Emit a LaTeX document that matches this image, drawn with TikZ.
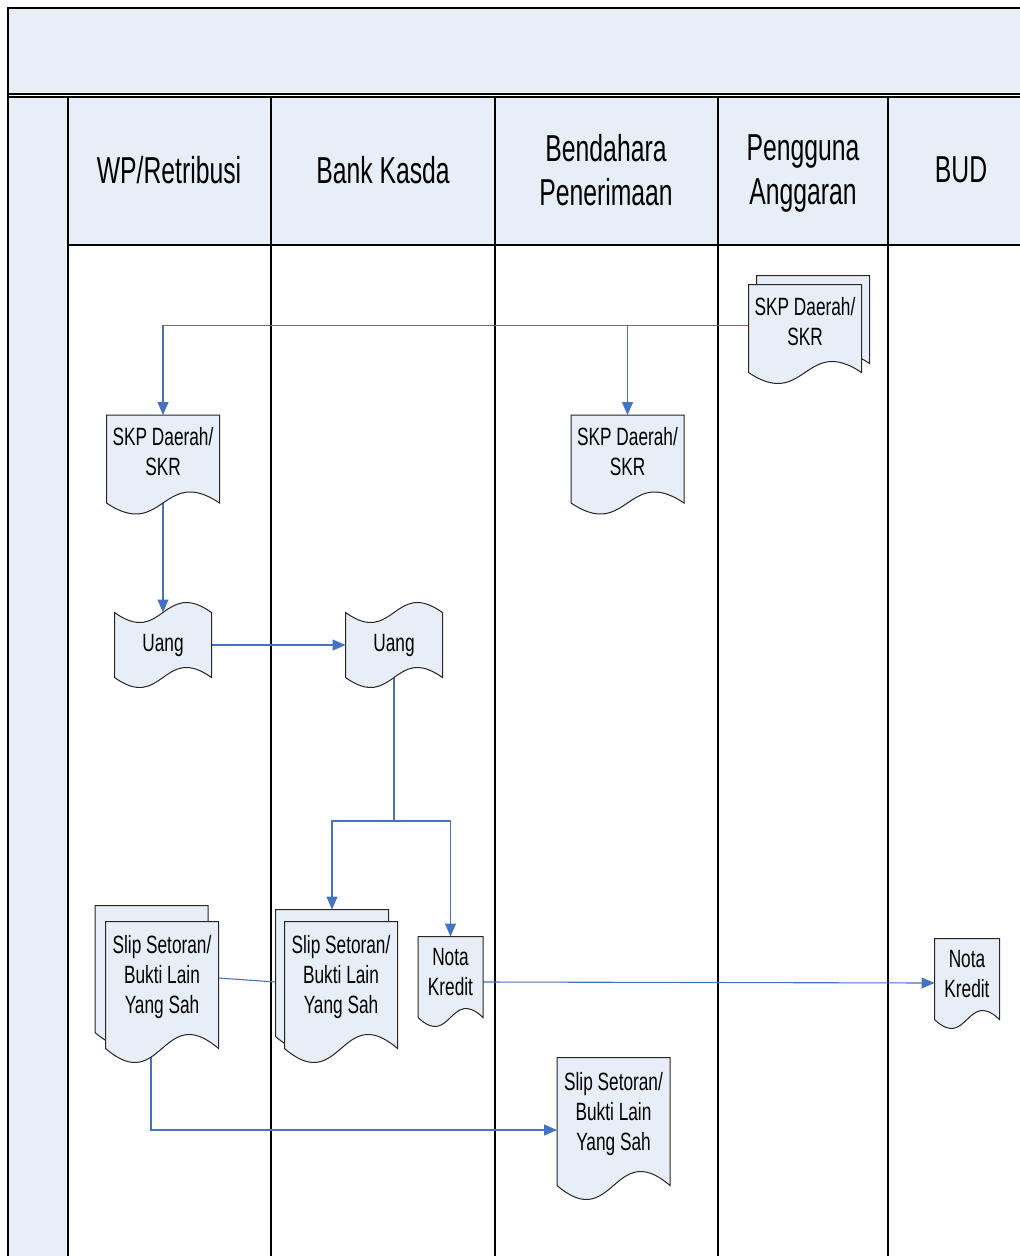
\documentclass[tikz,border=0pt]{standalone}
\usepackage{fontspec}
\usetikzlibrary{arrows.meta,calc}
\newfontfamily\hdfont{Liberation Sans}[FakeStretch=0.66]
\newfontfamily\dcfont{Liberation Sans}[FakeStretch=0.69]

\definecolor{paleblue}{RGB}{232,238,248}
\definecolor{linkblue}{RGB}{68,114,196}

% scratch registers for the custom shapes
\newdimen\shXa \newdimen\shYa \newdimen\shXb \newdimen\shYb
\newdimen\shXm \newdimen\shC \newdimen\shD
\def\shWaveAmp{10pt}
\def\shWaveDrop{14pt}

\makeatletter
% document symbol: straight top and sides, wavy bottom hanging below the text box
\pgfdeclareshape{wavydoc}{
  \inheritsavedanchors[from=rectangle]
  \inheritanchorborder[from=rectangle]
  \inheritanchor[from=rectangle]{center}
  \inheritanchor[from=rectangle]{north}
  \inheritanchor[from=rectangle]{south}
  \inheritanchor[from=rectangle]{east}
  \inheritanchor[from=rectangle]{west}
  \inheritanchor[from=rectangle]{north east}
  \inheritanchor[from=rectangle]{north west}
  \inheritanchor[from=rectangle]{south east}
  \inheritanchor[from=rectangle]{south west}
  \inheritanchor[from=rectangle]{mid}
  \inheritanchor[from=rectangle]{base}
  \backgroundpath{%
    \southwest \shXa=\pgf@x \shYa=\pgf@y
    \northeast \shXb=\pgf@x \shYb=\pgf@y
    \pgfmathsetlength\shD{\shWaveDrop}%
    \pgfmathsetlength\shC{\shWaveAmp/0.2887}%
    \advance\shYa by -\shD
    \shXm=\shXa \advance\shXm by \shXb \divide\shXm by 2
    \pgfpathmoveto{\pgfqpoint{\shXa}{\shYb}}%
    \pgfpathlineto{\pgfqpoint{\shXb}{\shYb}}%
    \pgfpathlineto{\pgfqpoint{\shXb}{\shYa}}%
    \pgfpathcurveto{\pgfpoint{\shXm}{\shYa+\shC}}{\pgfpoint{\shXm}{\shYa-\shC}}{\pgfqpoint{\shXa}{\shYa}}%
    \pgfpathclose
  }
}
% punched tape symbol: wavy top and bottom
\pgfdeclareshape{punchtape}{
  \inheritsavedanchors[from=rectangle]
  \inheritanchorborder[from=rectangle]
  \inheritanchor[from=rectangle]{center}
  \inheritanchor[from=rectangle]{north}
  \inheritanchor[from=rectangle]{south}
  \inheritanchor[from=rectangle]{east}
  \inheritanchor[from=rectangle]{west}
  \inheritanchor[from=rectangle]{north east}
  \inheritanchor[from=rectangle]{north west}
  \inheritanchor[from=rectangle]{south east}
  \inheritanchor[from=rectangle]{south west}
  \inheritanchor[from=rectangle]{mid}
  \inheritanchor[from=rectangle]{base}
  \backgroundpath{%
    \southwest \shXa=\pgf@x \shYa=\pgf@y
    \northeast \shXb=\pgf@x \shYb=\pgf@y
    \pgfmathsetlength\shC{\shWaveAmp/0.2887}%
    \shXm=\shXa \advance\shXm by \shXb \divide\shXm by 2
    \pgfpathmoveto{\pgfqpoint{\shXa}{\shYa}}%
    \pgfpathcurveto{\pgfpoint{\shXm}{\shYa-\shC}}{\pgfpoint{\shXm}{\shYa+\shC}}{\pgfqpoint{\shXb}{\shYa}}%
    \pgfpathlineto{\pgfqpoint{\shXb}{\shYb}}%
    \pgfpathcurveto{\pgfpoint{\shXm}{\shYb+\shC}}{\pgfpoint{\shXm}{\shYb-\shC}}{\pgfqpoint{\shXa}{\shYb}}%
    \pgfpathclose
  }
}
\makeatother

\pgfdeclarelayer{lanes}
\pgfdeclarelayer{links}
\pgfsetlayers{lanes,links,main}

\tikzset{
  wave amp/.store in=\shWaveAmp,
  wave drop/.store in=\shWaveDrop,
  laneline/.style={draw=black, line width=1.3pt},
  hdr/.style={font=\hdfont\fontsize{37.5}{44}\selectfont, align=center, inner sep=0pt},
  docbox/.style={shape=wavydoc, draw=black!85, line width=1pt, fill=paleblue,
    inner sep=0pt, align=center, font=\dcfont\fontsize{25}{30}\selectfont},
  tapebox/.style={shape=punchtape, draw=black!85, line width=1pt, fill=paleblue,
    inner sep=0pt, align=center, font=\dcfont\fontsize{25}{30}\selectfont,
    minimum width=96pt, minimum height=64pt, wave amp=10pt},
  skpsize/.style={minimum width=112pt, minimum height=73pt, wave amp=11pt, wave drop=14pt},
  slipsize/.style={minimum width=112pt, minimum height=110pt, wave amp=14pt, wave drop=16pt},
  notasize/.style={minimum width=64pt, minimum height=70pt, wave amp=9pt, wave drop=10pt},
  link/.style={draw=linkblue, line width=1.1pt},
  flow/.style={link, -{Triangle[length=13pt,width=11pt]}},
}

\begin{document}
\begin{tikzpicture}[x=1pt, y=-1pt]
\useasboundingbox (0,0) rectangle (1020,1256);

% pool and swimlanes
\begin{pgfonlayer}{lanes}
  \fill[paleblue] (8,8) rectangle (1030,94);
  \draw[laneline] (1030,8) -- (8,8) -- (8,94) -- (1030,94);
  \fill[paleblue] (8,97) rectangle (68,1262);
  \fill[paleblue] (68,97) rectangle (1030,245);
  \draw[laneline] (8,97) -- (1030,97);
  \draw[laneline] (8,94) -- (8,1262);
  \draw[laneline] (68,245) -- (1030,245);
  \foreach \lx in {68,271,495,718,888}
    \draw[laneline] (\lx,97) -- (\lx,1262);
\end{pgfonlayer}

% lane titles
\node[hdr] (hWP)  at (169,170) {WP/Retribusi};
\node[hdr] (hBK)  at (383,170) {Bank Kasda};
\node[hdr] (hBP)  at (606,170) {Bendahara\\Penerimaan};
\node[hdr] (hPA)  at (803,173) {Pengguna\\Anggaran};
\node[hdr] (hBUD) at (961,170) {BUD};

% Pengguna Anggaran
\node[docbox, skpsize] (paB) at (813,312.5) {};
\node[docbox, skpsize] (paF) at (805,321.5) {SKP Daerah/\\SKR};

% WP/Retribusi and Bendahara Penerimaan copies
\node[docbox, skpsize] (skpWP) at (163,452) {SKP Daerah/\\SKR};
\node[docbox, skpsize] (skpBP) at (627.5,452) {SKP Daerah/\\SKR};

% money
\node[tapebox] (uangWP) at (163,645) {Uang};
\node[tapebox] (uangBK) at (394,645) {Uang};
\coordinate (fork) at (394,821);

% deposit slips (back sheet, then front sheet)
\node[docbox, slipsize] (slipWPb) at (151.5,961) {};
\node[docbox, slipsize] (slipWPf) at (162,977) {Slip Setoran/\\Bukti Lain\\Yang Sah};
\node[docbox, slipsize] (slipBKb) at (332,965) {};
\node[docbox, slipsize] (slipBKf) at (341,977) {Slip Setoran/\\Bukti Lain\\Yang Sah};
\node[docbox, slipsize, minimum height=112pt, wave drop=15pt] (slipBP) at (613.5,1114) {Slip Setoran/\\Bukti Lain\\Yang Sah};

% credit notes
\node[docbox, notasize] (notaBK)  at (450.5,972) {Nota\\Kredit};
\node[docbox, notasize] (notaBUD) at (967,974) {Nota\\Kredit};

% flows
\begin{pgfonlayer}{links}
  \draw[flow] ([yshift=-4pt]paF.west) -| (skpWP.north);
  \draw[flow] ([yshift=-4pt]paF.west) -| (skpBP.north);
  \draw[flow] (skpWP.south) -- (uangWP.north);
  \draw[flow] (uangWP.east) -- (uangBK.west);
  \draw[link] (uangBK.south) -- (fork);
  \draw[flow] (fork) -| (slipBKb.north);
  \draw[flow] (fork) -| (notaBK.north);
  \draw[link] ([yshift=-1pt]slipWPf.east) -- ([yshift=-17pt]slipBKb.west);
  \draw[flow] ([yshift=-10pt]notaBK.east) -- ([yshift=-9pt]notaBUD.west);
  \draw[flow] ([xshift=-11pt]slipWPf.south) |- ([yshift=-16pt]slipBP.west);
\end{pgfonlayer}
\end{tikzpicture}
\end{document}
